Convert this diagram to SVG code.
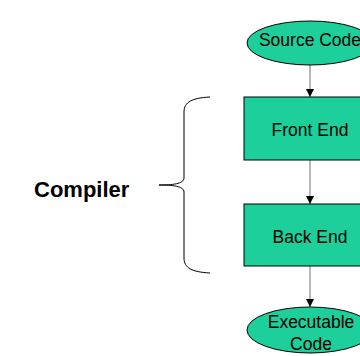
<svg xmlns="http://www.w3.org/2000/svg" width="360" height="356" viewBox="0 0 360 356">
  <style>
    .shape { fill: #1ccf9b; stroke: #000; stroke-width: 1; }
    .label { font-family: "Liberation Sans", Arial, sans-serif; font-size: 17.5px; fill: #000; text-anchor: middle; }
    .edge { stroke: #707070; stroke-width: 1; fill: none; marker-end: url(#arrow); }
    .brace { stroke: #000; stroke-width: 1; fill: none; }
    .title { font-family: "Liberation Sans", Arial, sans-serif; font-size: 22px; font-weight: bold; fill: #000; }
  </style>
  <defs>
    <marker id="arrow" viewBox="0 0 8 8" refX="8" refY="4" markerWidth="8" markerHeight="8" markerUnits="userSpaceOnUse" orient="auto">
      <path d="M0,0 L8,4 L0,8 Z" fill="#000"/>
    </marker>
  </defs>
  <rect width="360" height="356" fill="#fff"/>

  <g id="connectors">
    <line class="edge" x1="310" y1="65" x2="310" y2="97"/>
    <line class="edge" x1="310" y1="160" x2="310" y2="204"/>
    <line class="edge" x1="310" y1="266" x2="310" y2="307"/>
  </g>

  <g id="source-code">
    <ellipse class="shape" cx="310" cy="43" rx="63" ry="22"/>
    <text class="label" x="310" y="46">Source Code</text>
  </g>

  <g id="front-end">
    <rect class="shape" x="244" y="97" width="132" height="63"/>
    <text class="label" x="310" y="136">Front End</text>
  </g>

  <g id="back-end">
    <rect class="shape" x="244" y="204" width="132" height="62"/>
    <text class="label" x="310" y="243">Back End</text>
  </g>

  <g id="executable-code">
    <ellipse class="shape" cx="310" cy="330" rx="63" ry="23"/>
    <text class="label" x="311" y="328">Executable</text>
    <text class="label" x="311" y="350">Code</text>
  </g>

  <g id="compiler">
    <path class="brace" d="M210,97 C192,98 184,102 184,112 L184,178 C184,184 172,185 159,185 C172,185 184,186 184,192 L184,258 C184,268 192,272 210,273"/>
    <text class="title" x="34" y="197">Compiler</text>
  </g>
</svg>
